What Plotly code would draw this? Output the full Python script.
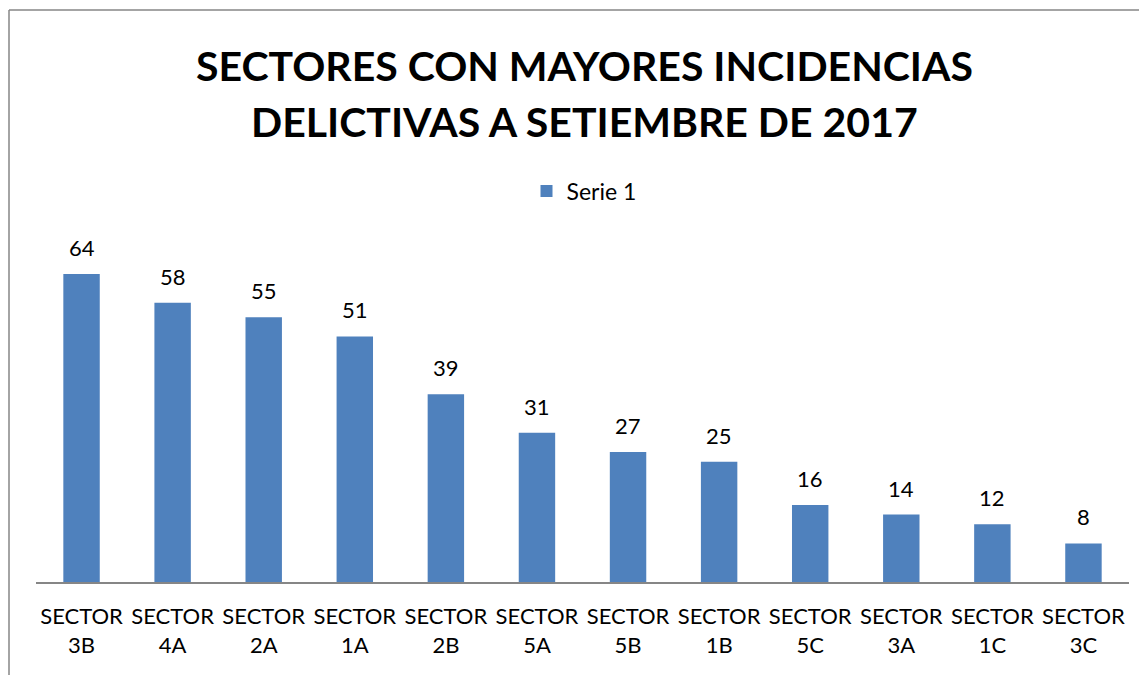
import plotly.graph_objects as go

categories = ["SECTOR<br>3B", "SECTOR<br>4A", "SECTOR<br>2A", "SECTOR<br>1A", "SECTOR<br>2B", "SECTOR<br>5A",
              "SECTOR<br>5B", "SECTOR<br>1B", "SECTOR<br>5C", "SECTOR<br>3A", "SECTOR<br>1C", "SECTOR<br>3C"]
values = [64, 58, 55, 51, 39, 31, 27, 25, 16, 14, 12, 8]
series_name = "Serie 1"
title_lines = ["SECTORES CON MAYORES INCIDENCIAS", "DELICTIVAS A SETIEMBRE DE 2017"]

OFF = 8  # page body margin
W, H = 1147, 675
L, R, T = 36 - OFF, 1147 - (1129 - OFF), 245 - OFF
B = H - (582 - OFF)
pw, ph = W - L - R, H - T - B

def px_x(p):
    return (p - OFF - L) / pw

def px_y(p):
    return (H - B - (p - OFF)) / ph

FONT = "Lato"

fig = go.Figure()
fig.add_trace(go.Bar(
    x=categories, y=values, name=series_name,
    marker=dict(color="#4F81BD", line=dict(width=0)),
    width=0.4,
    cliponaxis=False,
    showlegend=True,
))

annotations = []
for c, v in zip(categories, values):
    annotations.append(dict(x=c, y=v, xref="x", yref="y", text=str(v), showarrow=False,
                            yanchor="bottom", yshift=11,
                            font=dict(family=FONT, size=22, color="#000000")))
for txt, yp in zip(title_lines, [65, 122]):
    annotations.append(dict(x=px_x(584), y=px_y(yp), xref="paper", yref="paper", text=txt, showarrow=False,
                            xanchor="center", yanchor="middle",
                            font=dict(family=FONT, size=41, color="#000000", weight="bold")))

fig.update_layout(
    width=W, height=H,
    margin=dict(l=L, r=R, t=T, b=B),
    paper_bgcolor="white", plot_bgcolor="white",
    font=dict(family=FONT, color="#000000"),
    showlegend=True,
    legend=dict(orientation="h", x=px_x(584), xanchor="center", y=px_y(191), yanchor="middle",
                font=dict(family=FONT, size=23, color="#000000"),
                itemwidth=30, bgcolor="rgba(0,0,0,0)"),
    xaxis=dict(showgrid=False, showline=True, linecolor="#868686", linewidth=2,
               ticks="", tickfont=dict(family=FONT, size=22, color="#000000"),
               ticklabelstandoff=14,
               tickangle=0, range=[-0.5, len(categories) - 0.5]),
    yaxis=dict(visible=False, range=[0, 70]),
    bargap=0.6,
    annotations=annotations,
    shapes=[
        dict(type="line", xref="paper", yref="paper", x0=px_x(9), x1=px_x(9), y0=px_y(10), y1=px_y(700),
             line=dict(color="#868686", width=1.5)),
        dict(type="line", xref="paper", yref="paper", x0=px_x(9), x1=px_x(1170), y0=px_y(10), y1=px_y(10),
             line=dict(color="#868686", width=1.5)),
    ],
)

fig.write_html("out.html")
